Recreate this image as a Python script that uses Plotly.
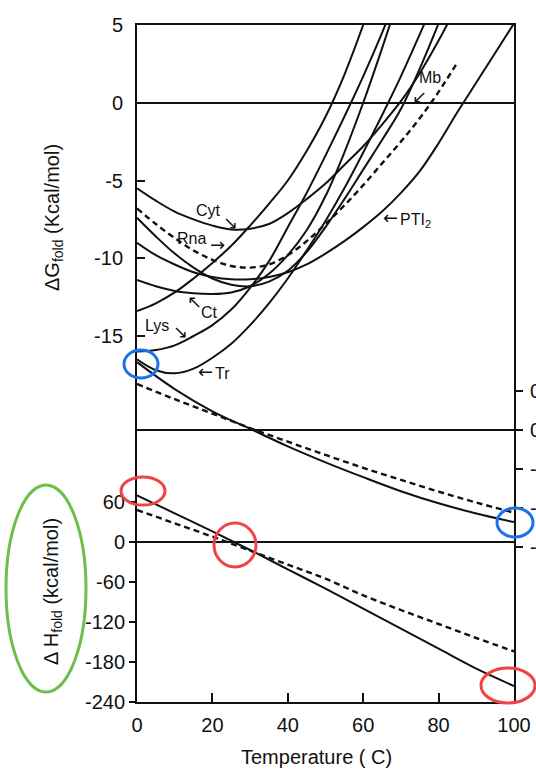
import plotly.graph_objects as go

# ---------------- data ----------------
T5 = [0, 5, 10, 15, 20, 25, 30, 35, 40, 45, 50, 55, 60, 65, 70, 75, 80, 85, 90, 95, 100]
T10 = [0, 10, 20, 30, 40, 50, 60, 70, 80, 90, 100]

# Delta G_fold (kcal/mol) vs temperature, sampled every 5 C
dG_cyt = [-5.5, -6.3, -7.0, -7.5, -7.9, -8.15, -8.1, -7.8, -7.1, -6.2, -5.2, -4.0, -2.8, -1.4, 0.1, 1.9, 4.0, 6.3]
dG_rna = [-13.4, -12.9, -12.2, -11.3, -10.3, -9.2, -7.9, -6.5, -5.0, -3.1, -0.9, 1.8, 5.0, 8.5]
dG_lys = [-16.0, -15.9, -15.6, -15.0, -14.3, -13.3, -11.9, -10.2, -8.0, -5.8, -3.4, -0.9, 1.7, 4.5, 7.5]
dG_tr = [-16.5, -17.2, -17.4, -17.1, -16.4, -15.5, -14.3, -12.9, -11.3, -9.5, -7.6, -5.5, -3.2, -0.8, 1.7, 4.4, 7.2]
dG_ct = [-11.4, -11.8, -12.1, -12.25, -12.3, -12.2, -11.8, -11.0, -9.8, -8.2, -6.0, -3.2, 0.0, 3.5, 7.2]
dG_mb = [-7.4, -8.6, -9.7, -10.6, -11.3, -11.7, -11.8, -11.5, -10.8, -9.6, -8.0, -6.2, -4.3, -2.4, -0.4, 2.2, 5.1]
dG_pti = [-9.0, -9.8, -10.4, -10.9, -11.2, -11.35, -11.35, -11.2, -10.9, -10.4, -9.7, -8.9, -8.0, -7.0, -5.8, -4.4, -2.6, -0.6, 1.3, 3.2, 5.1]
dG_avg = [-6.8, -7.8, -8.7, -9.5, -10.1, -10.5, -10.6, -10.4, -9.8, -8.9, -7.8, -6.6, -5.3, -3.9, -2.5, -1.0, 0.7, 2.6]

# Delta S_fold (right axis) and Delta H_fold (kcal/mol), every 10 C
dS_solid = [0.174, 0.105, 0.048, 0.003, -0.042, -0.083, -0.121, -0.157, -0.188, -0.214, -0.236]
dS_dash = [0.118, 0.079, 0.042, 0.005, -0.030, -0.064, -0.097, -0.128, -0.158, -0.186, -0.212]
dH_solid = [70, 43, 16, -12, -41, -70, -100, -130, -160, -190, -216]
dH_dash = [48, 28, 8, -13, -34, -55, -80, -102, -123, -144, -164]

# tick labels
x_ticks = [0, 20, 40, 60, 80, 100]
g_ticks = [5, 0, -5, -10, -15]
g_ticktext = ["5", "0", "-5", "-10", "-15"]
h_ticks = [60, 0, -60, -120, -180, -240]
h_ticktext = ["60", "0", "-60", "-120", "-180", "-240"]
s_ticks = [0.1, 0.0, -0.1, -0.2, -0.3]
s_ticktext = ["0.1", "0.0", "-0.1", "-0.2", "-0.3"]

# ---------------- layout geometry ----------------
W, H = 536, 771
PLOT_L, PLOT_R, PLOT_T, PLOT_B = 137, 514, 25, 702
ML, MT, MR, MB = PLOT_L, PLOT_T, W - PLOT_R, H - PLOT_B
PW, PH = PLOT_R - PLOT_L, PLOT_B - PLOT_T


def pxx(p):
    return (p - PLOT_L) / PW


def pxy(p):
    return (PLOT_B - p) / PH


FONT = "Liberation Sans, Arial, Helvetica, sans-serif"
ARROWFONT = "DejaVu Sans, sans-serif"
INK = "#111111"

fig = go.Figure()

solid = dict(color=INK, width=2)
dashed = dict(color=INK, width=2.4, dash="6px,4px")

for vals in [dG_cyt, dG_rna, dG_lys, dG_tr, dG_ct, dG_mb, dG_pti]:
    fig.add_trace(go.Scatter(x=T5[:len(vals)], y=vals, mode="lines", line=dict(shape="spline", **solid),
                             yaxis="y", showlegend=False, hoverinfo="skip"))
fig.add_trace(go.Scatter(x=T5[:len(dG_avg)], y=dG_avg, mode="lines", line=dict(shape="spline", **dashed),
                         yaxis="y", showlegend=False, hoverinfo="skip"))

fig.add_trace(go.Scatter(x=T10, y=dS_solid, mode="lines", line=dict(shape="spline", **solid),
                         yaxis="y3", showlegend=False, hoverinfo="skip"))
fig.add_trace(go.Scatter(x=T10, y=dS_dash, mode="lines", line=dict(shape="spline", **dashed),
                         yaxis="y3", showlegend=False, hoverinfo="skip"))
fig.add_trace(go.Scatter(x=T10, y=dH_solid, mode="lines", line=dict(shape="spline", **solid),
                         yaxis="y2", showlegend=False, hoverinfo="skip"))
fig.add_trace(go.Scatter(x=T10, y=dH_dash, mode="lines", line=dict(shape="spline", **dashed),
                         yaxis="y2", showlegend=False, hoverinfo="skip"))

# axis ranges chosen so that the three scales sit where they do in the figure
g_top, g_pxu = 5.0, 15.55
g_range = [g_top - PH / g_pxu, g_top]
h_pxu = 40 / 60
h_range = [-240, -240 + PH / h_pxu]
s_zero_px, s_pxu = 430, 390
s_range = [-(PLOT_B - s_zero_px) / s_pxu, (s_zero_px - PLOT_T) / s_pxu]

tickfont = dict(family=FONT, size=20, color=INK)

fig.update_layout(
    width=W, height=H,
    margin=dict(l=ML, r=MR, t=MT, b=MB, pad=0, autoexpand=False),
    paper_bgcolor="white", plot_bgcolor="white",
    font=dict(family=FONT, color=INK),
    xaxis=dict(range=[0, 100], tickvals=x_ticks, ticks="inside", ticklen=9, tickwidth=2, tickcolor=INK,
               showline=True, linewidth=2, linecolor=INK, mirror=True, showgrid=False, zeroline=False,
               tickfont=tickfont, ticklabelstandoff=4, automargin=False),
    yaxis=dict(range=g_range, tickvals=g_ticks, ticktext=g_ticktext, ticks="inside", ticklen=8, tickwidth=2,
               tickcolor=INK, showline=True, linewidth=2, linecolor=INK, mirror=True, showgrid=False,
               zeroline=True, zerolinecolor=INK, zerolinewidth=2,
               tickfont=tickfont, ticklabelstandoff=8, automargin=False),
    yaxis2=dict(range=h_range, tickvals=h_ticks, ticktext=h_ticktext, overlaying="y", side="left", anchor="x",
                ticks="outside", ticklen=7, tickwidth=2, tickcolor=INK,
                showline=False, showgrid=False, zeroline=True, zerolinecolor=INK, zerolinewidth=2,
                tickfont=tickfont, automargin=False),
    yaxis3=dict(range=s_range, tickvals=s_ticks, ticktext=s_ticktext, overlaying="y", side="right", anchor="x",
                ticks="outside", ticklen=7, tickwidth=2, tickcolor=INK,
                showline=True, linewidth=2, linecolor=INK, showgrid=False,
                zeroline=True, zerolinecolor=INK, zerolinewidth=2,
                tickfont=tickfont, ticklabelstandoff=3, automargin=False),
)

# axis titles
ann = []
ann.append(dict(text="Temperature ( C)", xref="paper", yref="paper", x=pxx(316), y=pxy(757),
                xanchor="center", yanchor="middle",
                showarrow=False, font=dict(size=20, family=FONT, color=INK)))
ann.append(dict(text="ΔG<sub>fold</sub> (Kcal/mol)", xref="paper", yref="paper", x=pxx(54), y=pxy(218),
                xanchor="center", yanchor="middle",
                textangle=-90, showarrow=False, font=dict(size=20, family=FONT, color=INK)))
ann.append(dict(text="Δ H<sub>fold</sub> (kcal/mol)", xref="paper", yref="paper", x=pxx(52), y=pxy(592),
                xanchor="center", yanchor="middle",
                textangle=-90, showarrow=False, font=dict(size=20, family=FONT, color=INK)))

# protein labels (data coordinates: temperature, Delta G)
labels = [
    ("Cyt", 19.0, -6.9, "center"),
    ("Rna", 14.4, -8.7, "center"),
    ("Ct", 19.3, -13.5, "center"),
    ("Lys", 5.2, -14.3, "center"),
    ("Tr", 22.6, -17.4, "center"),
    ("Mb", 77.8, 1.6, "center"),
    ("PTI<sub>2</sub>", 69.2, -7.6, "left"),
]
for text, tx, ty, anc in labels:
    ann.append(dict(text=text, x=tx, y=ty, xref="x", yref="y", xanchor=anc, yanchor="middle",
                    showarrow=False, font=dict(size=16, family=FONT, color=INK)))

arrows = [
    ("↘", 24.8, -7.7),
    ("→", 21.4, -9.1),
    ("↖", 15.3, -12.8),
    ("↘", 11.6, -14.7),
    ("←", 18.3, -17.3),
    ("↙", 74.8, 0.4),
    ("←", 67.3, -7.4),
]
for text, tx, ty in arrows:
    ann.append(dict(text=text, x=tx, y=ty, xref="x", yref="y", xanchor="center", yanchor="middle",
                    showarrow=False, font=dict(size=18, family=ARROWFONT, color=INK)))
fig.update_layout(annotations=ann)

# hand-drawn highlight marks on the scan (reference pixels)
marks = [
    ("#1a73e8", 124, 350, 158, 378),
    ("#1a73e8", 497, 508, 533, 537),
    ("#ef4444", 121, 477, 165, 505),
    ("#ef4444", 214, 523, 256, 567),
    ("#ef4444", 481, 668, 535, 703),
    ("#6cc04a", 6, 485, 86, 692),
]
for col, x0, y0, x1, y1 in marks:
    fig.add_shape(type="circle", xref="paper", yref="paper", x0=pxx(x0), x1=pxx(x1), y0=pxy(y1), y1=pxy(y0),
                  line=dict(color=col, width=3))

# remove the default page margin so the figure fills the window exactly
fig.write_html("out.html", config={"displayModeBar": False},
               post_script="document.body.style.margin='0';document.body.style.overflow='hidden';")
